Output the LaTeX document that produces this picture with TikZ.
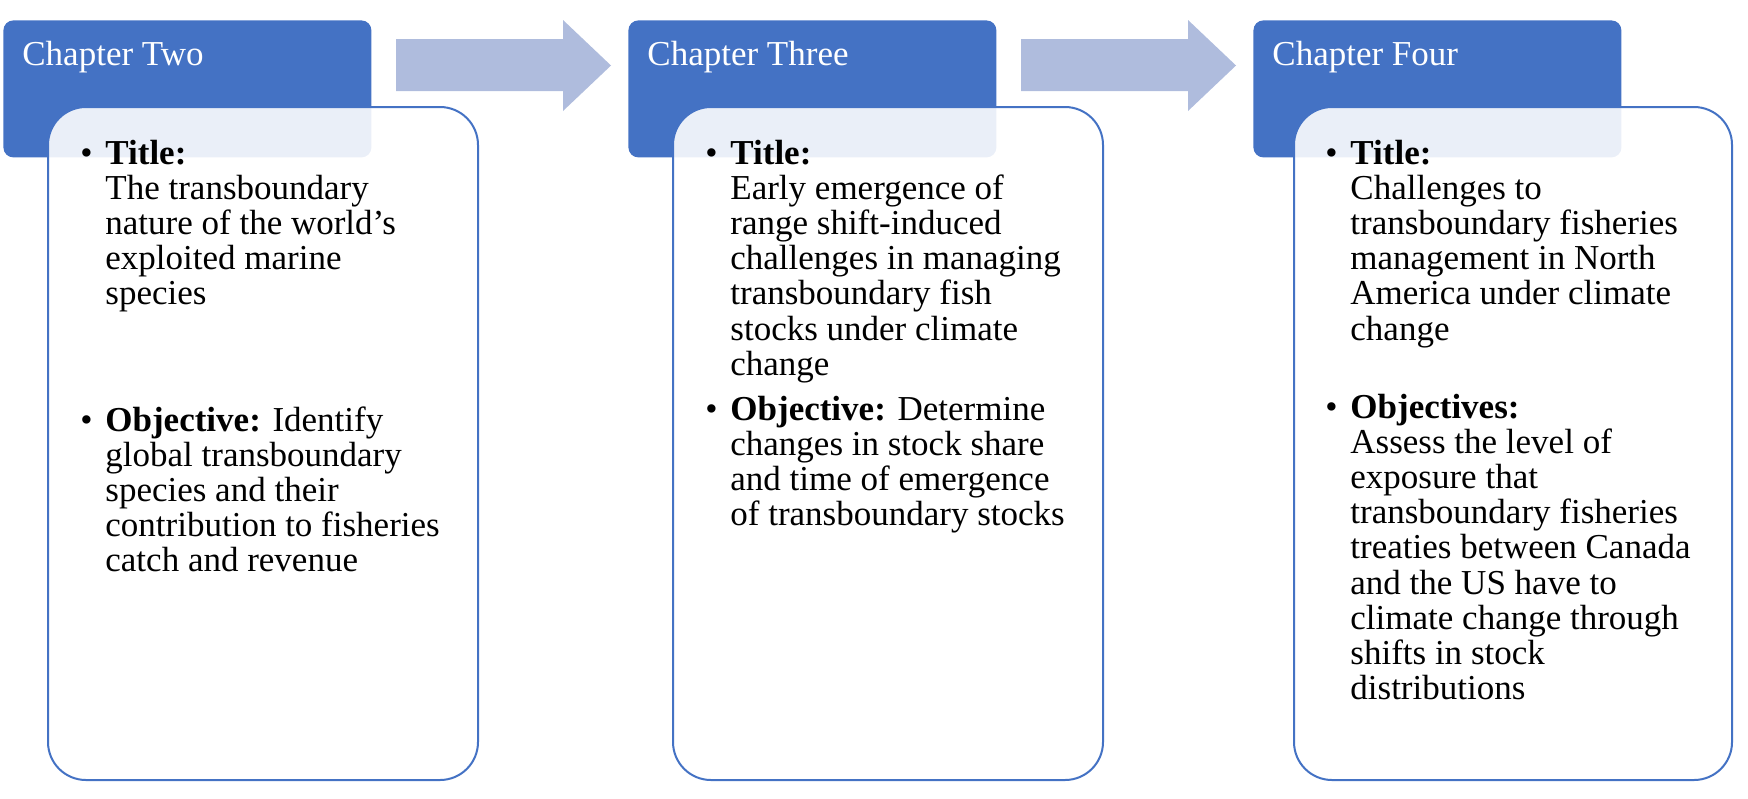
\documentclass[tikz,border=0pt]{standalone}
\usepackage{fontspec}
\setmainfont{Liberation Serif}
\definecolor{hdr}{HTML}{4472C4}
\definecolor{arr}{HTML}{AFBCDD}
\newcommand{\bu}{\leavevmode\llap{\makebox[12.5pt][l]{\textbullet}}}
\tikzset{
  hdrbox/.style={fill=hdr, rounded corners=5pt, minimum width=184pt, minimum height=68.5pt, anchor=north west, inner sep=0pt},
  hdrtext/.style={anchor=base west, inner sep=0pt, text=white, font=\fontsize{17.5}{17.6}\selectfont},
  contbox/.style={fill=white, fill opacity=0.89, draw=hdr, line width=1pt, rounded corners=19pt, minimum width=215pt, minimum height=336.5pt, anchor=north west, inner sep=0pt},
  body/.style={anchor=base west, inner sep=0pt, font=\fontsize{17.5}{17.6}\selectfont},
  blockarrow/.style={fill=arr}
}
\begin{document}
\begin{tikzpicture}[x=0.5pt,y=-0.5pt]
\useasboundingbox (0,0) rectangle (1748,798);
% arrows
\fill[blockarrow] (396,39) -- (563,39) -- (563,20) -- (611,65.5) -- (563,111) -- (563,91) -- (396,91) -- cycle;
\fill[blockarrow] (1021,39) -- (1188,39) -- (1188,20) -- (1236,65.5) -- (1188,111) -- (1188,91) -- (1021,91) -- cycle;
% headers
\node (h1) [hdrbox] at (3,20) {};
\node (h2) [hdrbox] at (628,20) {};
\node (h3) [hdrbox] at (1253,20) {};
\node (ht1) [hdrtext] at (22,65) {Chapter Two};
\node (ht2) [hdrtext] at (647,65) {Chapter Three};
\node (ht3) [hdrtext] at (1272,65) {Chapter Four};
% content boxes
\node (c1) [contbox] at (47,106) {};
\node (c2) [contbox] at (672,106) {};
\node (c3) [contbox, minimum width=219pt] at (1293,106) {};
% box 1
\node (b1a) [body] at (105,164) {\parbox[t]{200pt}{\raggedright\bu\textbf{Title:}\\The transboundary\\nature of the world’s\\exploited marine\\species}};
\node (b1b) [body] at (105,431) {\parbox[t]{200pt}{\raggedright\bu\textbf{Objective:} Identify\\global transboundary\\species and their\\contribution to fisheries\\catch and revenue}};
% box 2
\node (b2a) [body] at (730,164) {\parbox[t]{200pt}{\raggedright\bu\textbf{Title:}\\Early emergence of\\range shift-induced\\challenges in managing\\transboundary fish\\stocks under climate\\change}};
\node (b2b) [body] at (730,420) {\parbox[t]{200pt}{\raggedright\bu\textbf{Objective:} Determine\\changes in stock share\\and time of emergence\\of transboundary stocks}};
% box 3
\node (b3a) [body] at (1350,164) {\parbox[t]{200pt}{\raggedright\bu\textbf{Title:}\\Challenges to\\transboundary fisheries\\management in North\\America under climate\\change}};
\node (b3b) [body] at (1350,418) {\parbox[t]{200pt}{\raggedright\bu\textbf{Objectives:}\\Assess the level of\\exposure that\\transboundary fisheries\\treaties between Canada\\and the US have to\\climate change through\\shifts in stock\\distributions}};
\end{tikzpicture}
\end{document}
